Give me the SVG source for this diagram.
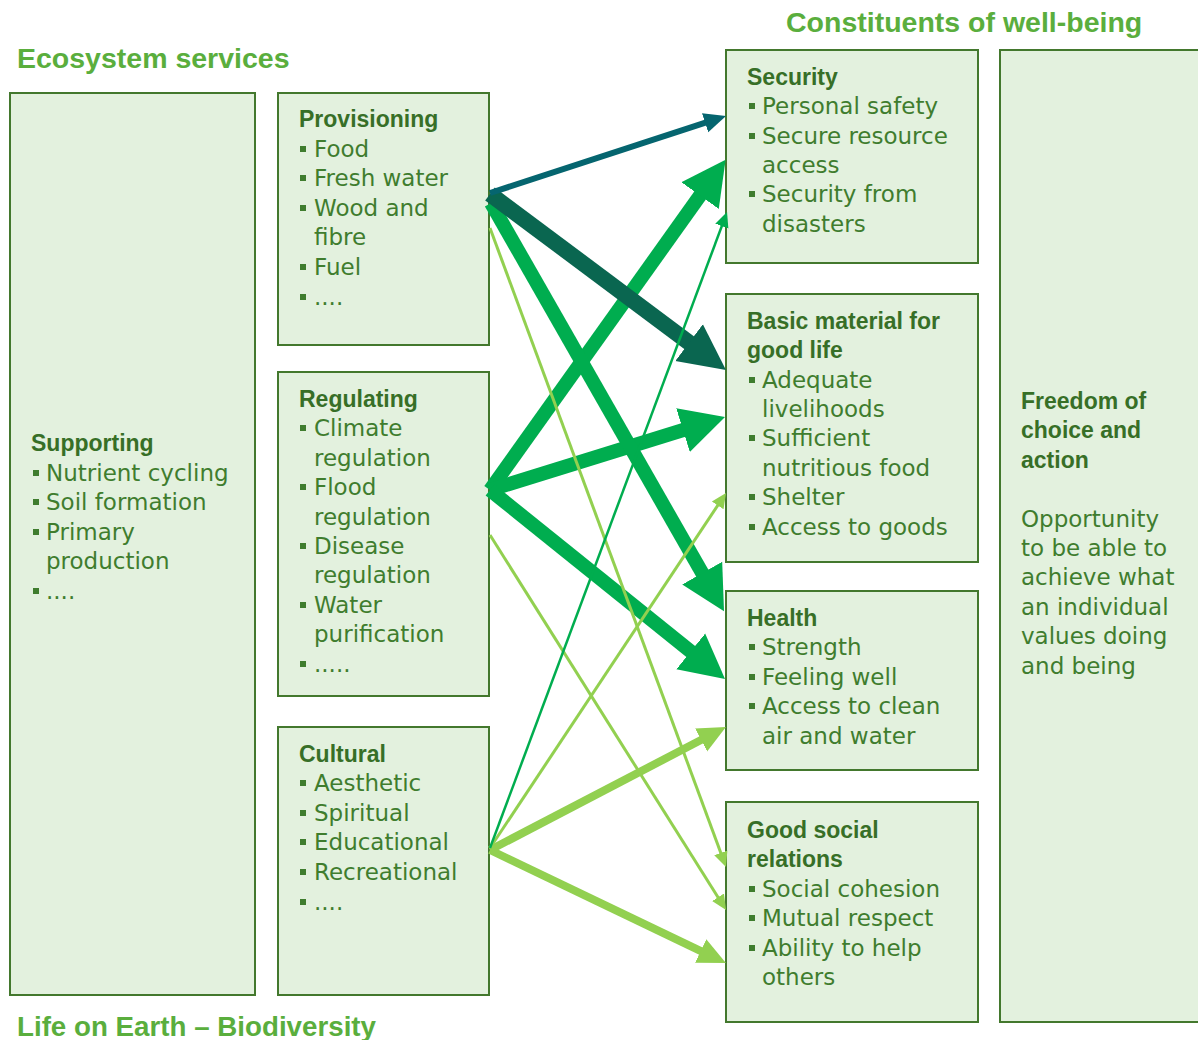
<svg xmlns="http://www.w3.org/2000/svg" width="1198" height="1040" viewBox="0 0 1198 1040">
<style>
.box{fill:#e3f1de;stroke:#43782d;stroke-width:2}
.t{font-family:"DejaVu Sans",sans-serif;font-size:23px;fill:#3f7d2e;transform:translateY(1px)}
.h{font-family:"Liberation Sans",Arial,sans-serif;font-weight:bold;font-size:23px;fill:#376f27;transform:translateY(1px)}
.title{font-family:"Liberation Sans",Arial,sans-serif;font-weight:bold;font-size:28.5px;fill:#5aae3d}
.b{fill:#3f7d2e;transform:translateY(1px)}
</style>
<defs>
<marker id="mTeal" markerUnits="userSpaceOnUse" viewBox="0 -12 24 24" markerWidth="24" markerHeight="24" refX="2" refY="0" orient="auto"><path d="M0,-10 L22,0 L0,10 z" fill="#05656f"/></marker>
<marker id="mDark" markerUnits="userSpaceOnUse" viewBox="0 -25 48 50" markerWidth="48" markerHeight="50" refX="2" refY="0" orient="auto"><path d="M0,-23 L46,0 L0,23 z" fill="#0a6650"/></marker>
<marker id="mGreen" markerUnits="userSpaceOnUse" viewBox="0 -25 46 50" markerWidth="46" markerHeight="50" refX="2" refY="0" orient="auto"><path d="M0,-23 L44,0 L0,23 z" fill="#00ad4f"/></marker>
<marker id="mLightBig" markerUnits="userSpaceOnUse" viewBox="0 -14 30 28" markerWidth="30" markerHeight="28" refX="2" refY="0" orient="auto"><path d="M0,-13 L28,0 L0,13 z" fill="#92d050"/></marker>
<marker id="mLight" markerUnits="userSpaceOnUse" viewBox="0 -8 16 16" markerWidth="16" markerHeight="16" refX="2" refY="0" orient="auto"><path d="M0,-7 L15,0 L0,7 z" fill="#92d050"/></marker>
<marker id="mGreenThin" markerUnits="userSpaceOnUse" viewBox="0 -8 16 16" markerWidth="16" markerHeight="16" refX="2" refY="0" orient="auto"><path d="M0,-7 L15,0 L0,7 z" fill="#00ad4f"/></marker>
</defs>

<g id="titles">
<text class="title" x="17" y="68">Ecosystem services</text>
<text class="title" x="786" y="32">Constituents of well-being</text>
<text class="title" x="17" y="1036" textLength="359" lengthAdjust="spacingAndGlyphs">Life on Earth – Biodiversity</text>
</g>

<g id="supporting">
<rect class="box" x="10" y="93" width="245" height="902"/>
<text class="h" x="31" y="450">Supporting</text>
<rect class="b" x="33" y="469" width="6" height="6"/><text class="t" x="46" y="480">Nutrient cycling</text>
<rect class="b" x="33" y="498" width="6" height="6"/><text class="t" x="46" y="509">Soil formation</text>
<rect class="b" x="33" y="528" width="6" height="6"/><text class="t" x="46" y="539">Primary</text>
<text class="t" x="46" y="568">production</text>
<rect class="b" x="33" y="587" width="6" height="6"/><text class="t" x="46" y="598">....</text>
</g>

<g id="provisioning">
<rect class="box" x="278" y="93" width="211" height="252"/>
<text class="h" x="299" y="126">Provisioning</text>
<rect class="b" x="300" y="145" width="6" height="6"/><text class="t" x="314" y="156">Food</text>
<rect class="b" x="300" y="174" width="6" height="6"/><text class="t" x="314" y="185">Fresh water</text>
<rect class="b" x="300" y="204" width="6" height="6"/><text class="t" x="314" y="215">Wood and</text>
<text class="t" x="314" y="244">fibre</text>
<rect class="b" x="300" y="263" width="6" height="6"/><text class="t" x="314" y="274">Fuel</text>
<rect class="b" x="300" y="293" width="6" height="6"/><text class="t" x="314" y="304">....</text>
</g>

<g id="regulating">
<rect class="box" x="278" y="372" width="211" height="324"/>
<text class="h" x="299" y="406">Regulating</text>
<rect class="b" x="300" y="424" width="6" height="6"/><text class="t" x="314" y="435">Climate</text>
<text class="t" x="314" y="465">regulation</text>
<rect class="b" x="300" y="483" width="6" height="6"/><text class="t" x="314" y="494">Flood</text>
<text class="t" x="314" y="524">regulation</text>
<rect class="b" x="300" y="542" width="6" height="6"/><text class="t" x="314" y="553">Disease</text>
<text class="t" x="314" y="582">regulation</text>
<rect class="b" x="300" y="601" width="6" height="6"/><text class="t" x="314" y="612">Water</text>
<text class="t" x="314" y="641">purification</text>
<rect class="b" x="300" y="660" width="6" height="6"/><text class="t" x="314" y="671">.....</text>
</g>

<g id="cultural">
<rect class="box" x="278" y="727" width="211" height="268"/>
<text class="h" x="299" y="761">Cultural</text>
<rect class="b" x="300" y="779" width="6" height="6"/><text class="t" x="314" y="790">Aesthetic</text>
<rect class="b" x="300" y="809" width="6" height="6"/><text class="t" x="314" y="820">Spiritual</text>
<rect class="b" x="300" y="838" width="6" height="6"/><text class="t" x="314" y="849">Educational</text>
<rect class="b" x="300" y="868" width="6" height="6"/><text class="t" x="314" y="879">Recreational</text>
<rect class="b" x="300" y="898" width="6" height="6"/><text class="t" x="314" y="909">....</text>
</g>

<g id="security">
<rect class="box" x="726" y="50" width="252" height="213"/>
<text class="h" x="747" y="84">Security</text>
<rect class="b" x="749" y="102" width="6" height="6"/><text class="t" x="762" y="113">Personal safety</text>
<rect class="b" x="749" y="132" width="6" height="6"/><text class="t" x="762" y="143">Secure resource</text>
<text class="t" x="762" y="172">access</text>
<rect class="b" x="749" y="190" width="6" height="6"/><text class="t" x="762" y="201">Security from</text>
<text class="t" x="762" y="231">disasters</text>
</g>

<g id="basic-material">
<rect class="box" x="726" y="294" width="252" height="268"/>
<text class="h" x="747" y="328">Basic material for</text>
<text class="h" x="747" y="357">good life</text>
<rect class="b" x="749" y="376" width="6" height="6"/><text class="t" x="762" y="387">Adequate</text>
<text class="t" x="762" y="416">livelihoods</text>
<rect class="b" x="749" y="434" width="6" height="6"/><text class="t" x="762" y="445">Sufficient</text>
<text class="t" x="762" y="475">nutritious food</text>
<rect class="b" x="749" y="493" width="6" height="6"/><text class="t" x="762" y="504">Shelter</text>
<rect class="b" x="749" y="523" width="6" height="6"/><text class="t" x="762" y="534">Access to goods</text>
</g>

<g id="health">
<rect class="box" x="726" y="591" width="252" height="179"/>
<text class="h" x="747" y="625">Health</text>
<rect class="b" x="749" y="643" width="6" height="6"/><text class="t" x="762" y="654">Strength</text>
<rect class="b" x="749" y="673" width="6" height="6"/><text class="t" x="762" y="684">Feeling well</text>
<rect class="b" x="749" y="702" width="6" height="6"/><text class="t" x="762" y="713">Access to clean</text>
<text class="t" x="762" y="743">air and water</text>
</g>

<g id="good-social-relations">
<rect class="box" x="726" y="802" width="252" height="220"/>
<text class="h" x="747" y="837">Good social</text>
<text class="h" x="747" y="866">relations</text>
<rect class="b" x="749" y="885" width="6" height="6"/><text class="t" x="762" y="896">Social cohesion</text>
<rect class="b" x="749" y="914" width="6" height="6"/><text class="t" x="762" y="925">Mutual respect</text>
<rect class="b" x="749" y="944" width="6" height="6"/><text class="t" x="762" y="955">Ability to help</text>
<text class="t" x="762" y="984">others</text>
</g>

<g id="freedom">
<rect class="box" x="1000" y="50" width="200" height="972"/>
<text class="h" x="1021" y="408">Freedom of</text>
<text class="h" x="1021" y="437">choice and</text>
<text class="h" x="1021" y="467">action</text>
<text class="t" x="1021" y="526">Opportunity</text>
<text class="t" x="1021" y="555">to be able to</text>
<text class="t" x="1021" y="584">achieve what</text>
<text class="t" x="1021" y="614">an individual</text>
<text class="t" x="1021" y="643">values doing</text>
<text class="t" x="1021" y="673">and being</text>
</g>

<g id="connectors" fill="none" stroke-linecap="butt">
<line x1="490" y1="490" x2="701.2" y2="193.9" stroke="#00ad4f" stroke-width="14" marker-end="url(#mGreen)"/>
<line x1="490" y1="490" x2="684.9" y2="429.5" stroke="#00ad4f" stroke-width="14" marker-end="url(#mGreen)"/>
<line x1="490" y1="490" x2="692.3" y2="652.7" stroke="#00ad4f" stroke-width="14" marker-end="url(#mGreen)"/>
<line x1="491" y1="203" x2="703.2" y2="574.8" stroke="#00ad4f" stroke-width="14" marker-end="url(#mGreen)"/>
<line x1="490" y1="194" x2="690.7" y2="343.8" stroke="#0a6650" stroke-width="16" marker-end="url(#mDark)"/>
<line x1="490" y1="193" x2="707" y2="122.2" stroke="#05656f" stroke-width="6" marker-end="url(#mTeal)"/>
<line x1="490" y1="850" x2="702.9" y2="739" stroke="#92d050" stroke-width="8" marker-end="url(#mLightBig)"/>
<line x1="490" y1="850" x2="702.5" y2="951.8" stroke="#92d050" stroke-width="8" marker-end="url(#mLightBig)"/>
<line x1="490" y1="228" x2="721.5" y2="854.8" stroke="#92d050" stroke-width="3" marker-end="url(#mLight)"/>
<line x1="490" y1="535" x2="719.1" y2="899" stroke="#92d050" stroke-width="3" marker-end="url(#mLight)"/>
<line x1="490" y1="848" x2="718.8" y2="503.8" stroke="#92d050" stroke-width="3" marker-end="url(#mLight)"/>
<line x1="490" y1="848" x2="722.5" y2="224.2" stroke="#00ad4f" stroke-width="2.5" marker-end="url(#mGreenThin)"/>
</g>
</svg>
